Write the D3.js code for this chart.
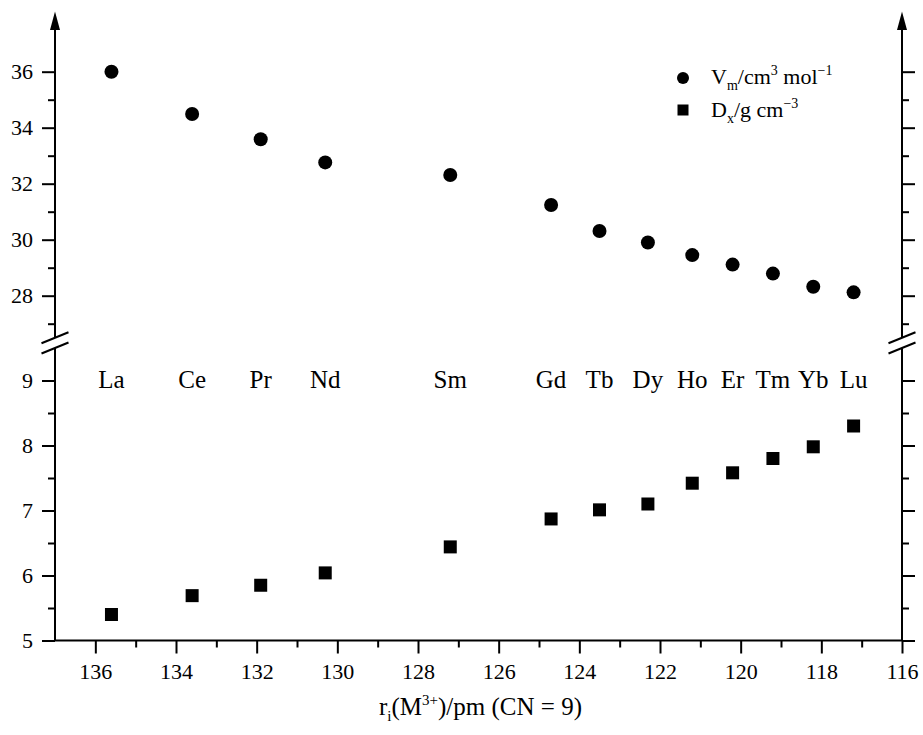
<!DOCTYPE html>
<html lang="en">
<head>
    <meta charset="UTF-8">
    <title>Molar volume and density vs ionic radius</title>
    <style>
        body { margin: 0; background: #fff; }
        svg text { font-family: 'Liberation Serif', 'Times New Roman', serif; fill: #000; }
    </style>
    <script src="https://d3js.org/d3.v7.min.js"></script>
</head>
<body>
    <svg width="923" height="735"></svg>
    <script>
        // values
        const elements = ["La", "Ce", "Pr", "Nd", "Sm", "Gd", "Tb", "Dy", "Ho", "Er", "Tm", "Yb", "Lu"];
        const radius = [135.6, 133.6, 131.9, 130.3, 127.2, 124.7, 123.5, 122.3, 121.2, 120.2, 119.2, 118.2, 117.2];
        const molarVolume = [36.0, 34.49, 33.59, 32.76, 32.31, 31.24, 30.31, 29.90, 29.45, 29.11, 28.79, 28.32, 28.12];
        const density = [5.40, 5.69, 5.85, 6.04, 6.44, 6.87, 7.01, 7.10, 7.42, 7.58, 7.80, 7.98, 8.30];

        const xTicks = [136, 134, 132, 130, 128, 126, 124, 122, 120, 118, 116];
        const xMinor = [135, 133, 131, 129, 127, 125, 123, 121, 119, 117];
        const upperTicks = [28, 30, 32, 34, 36];
        const upperMinor = [27, 29, 31, 33, 35];
        const lowerTicks = [5, 6, 7, 8, 9];
        const lowerMinor = [5.5, 6.5, 7.5, 8.5];

        const data = elements.map((el, i) => ({ el, r: radius[i], vm: molarVolume[i], dx: density[i] }));

        const svg = d3.select("svg");
        const left = 55, right = 902;

        const x = d3.scaleLinear().domain([137, 116]).range([left, right]);
        const yUp = d3.scaleLinear().domain([26.5, 37]).range([337.7, 43.7]);
        const yLow = d3.scaleLinear().domain([5, 9.5]).range([640.5, 348]);

        const major = 13, minor = 7, fontSize = "22px";
        const fmt = d3.format("d");

        function styleAxis(g) {
            g.select(".domain").remove();
            g.selectAll(".tick line").attr("stroke", "#000").attr("stroke-width", 2);
            g.selectAll(".tick text").style("font-size", fontSize).attr("fill", "#000");
        }

        // left axis, upper and lower parts
        svg.append("g").attr("transform", `translate(${left},0)`)
            .call(d3.axisLeft(yUp).tickValues(upperTicks).tickSize(major).tickPadding(9).tickFormat(fmt)).call(styleAxis);
        svg.append("g").attr("transform", `translate(${left},0)`)
            .call(d3.axisLeft(yUp).tickValues(upperMinor).tickSize(minor).tickFormat("")).call(styleAxis);
        svg.append("g").attr("transform", `translate(${left},0)`)
            .call(d3.axisLeft(yLow).tickValues(lowerTicks).tickSize(major).tickPadding(9).tickFormat(fmt)).call(styleAxis);
        svg.append("g").attr("transform", `translate(${left},0)`)
            .call(d3.axisLeft(yLow).tickValues(lowerMinor).tickSize(minor).tickFormat("")).call(styleAxis);

        // right axis, no labels
        svg.append("g").attr("transform", `translate(${right},0)`)
            .call(d3.axisRight(yUp).tickValues(upperTicks).tickSize(major).tickFormat("")).call(styleAxis);
        svg.append("g").attr("transform", `translate(${right},0)`)
            .call(d3.axisRight(yUp).tickValues(upperMinor).tickSize(minor).tickFormat("")).call(styleAxis);
        svg.append("g").attr("transform", `translate(${right},0)`)
            .call(d3.axisRight(yLow).tickValues(lowerTicks).tickSize(major).tickFormat("")).call(styleAxis);
        svg.append("g").attr("transform", `translate(${right},0)`)
            .call(d3.axisRight(yLow).tickValues(lowerMinor).tickSize(minor).tickFormat("")).call(styleAxis);

        // bottom axis
        const yBase = yLow(5);
        svg.append("g").attr("transform", `translate(0,${yBase})`)
            .call(d3.axisBottom(x).tickValues(xTicks).tickSize(major).tickPadding(10).tickFormat(fmt)).call(styleAxis);
        svg.append("g").attr("transform", `translate(0,${yBase})`)
            .call(d3.axisBottom(x).tickValues(xMinor).tickSize(minor).tickFormat("")).call(styleAxis);

        // axis lines
        const lines = svg.append("g").attr("stroke", "#000").attr("stroke-width", 2);
        const arrowBase = 29, arrowTip = 11.5;
        [left, right].forEach(ax => {
            lines.append("line").attr("x1", ax).attr("x2", ax).attr("y1", yUp(26.5)).attr("y2", arrowBase);
            lines.append("line").attr("x1", ax).attr("x2", ax).attr("y1", yLow(9.5)).attr("y2", yLow(5));
            svg.append("path")
                .attr("d", `M${ax},${arrowTip} L${ax - 5},${arrowBase + 1} L${ax + 5},${arrowBase + 1} Z`)
                .attr("fill", "#000");
            // break marks
            [yUp(26.5), yLow(9.5)].forEach(yb => {
                lines.append("line")
                    .attr("x1", ax - 13.5).attr("y1", yb + 5.5)
                    .attr("x2", ax + 13.5).attr("y2", yb - 5.5);
            });
        });
        lines.append("line").attr("x1", left).attr("x2", right).attr("y1", yBase).attr("y2", yBase);

        // molar volume circles
        svg.append("g").selectAll("circle")
            .data(data).enter().append("circle")
            .attr("cx", d => x(d.r))
            .attr("cy", d => yUp(d.vm))
            .attr("r", 7)
            .attr("fill", "#000");

        // density squares
        const sq = 13;
        svg.append("g").selectAll("rect")
            .data(data).enter().append("rect")
            .attr("x", d => x(d.r) - sq / 2)
            .attr("y", d => yLow(d.dx) - sq / 2)
            .attr("width", sq)
            .attr("height", sq)
            .attr("fill", "#000");

        // element labels
        svg.append("g").selectAll("text")
            .data(data).enter().append("text")
            .attr("x", d => x(d.r))
            .attr("y", yLow(9))
            .attr("dy", "0.3em")
            .attr("text-anchor", "middle")
            .style("font-size", "25px")
            .text(d => d.el);

        // legend
        const legend = svg.append("g").attr("transform", "translate(683,0)");
        legend.append("circle").attr("cx", 0).attr("cy", 78).attr("r", 6).attr("fill", "#000");
        legend.append("rect").attr("x", -5.5).attr("y", 104.5).attr("width", 11).attr("height", 11).attr("fill", "#000");

        const t1 = legend.append("text").attr("x", 28).attr("y", 84).style("font-size", fontSize);
        t1.append("tspan").text("V");
        t1.append("tspan").attr("dy", 6).style("font-size", "14px").text("m");
        t1.append("tspan").attr("dy", -6).text("/cm");
        t1.append("tspan").attr("dy", -9).style("font-size", "14px").text("3");
        t1.append("tspan").attr("dy", 9).text(" mol");
        t1.append("tspan").attr("dy", -9).style("font-size", "14px").text("\u22121");

        const t2 = legend.append("text").attr("x", 28).attr("y", 117).style("font-size", fontSize);
        t2.append("tspan").text("D");
        t2.append("tspan").attr("dy", 6).style("font-size", "14px").text("x");
        t2.append("tspan").attr("dy", -6).text("/g cm");
        t2.append("tspan").attr("dy", -9).style("font-size", "14px").text("\u22123");

        // x axis title
        const xt = svg.append("text")
            .attr("x", (left + right) / 2 + 2)
            .attr("y", 715)
            .attr("text-anchor", "middle")
            .style("font-size", "25px");
        xt.append("tspan").text("r");
        xt.append("tspan").attr("dy", 6).style("font-size", "15px").text("i");
        xt.append("tspan").attr("dy", -6).text("(M");
        xt.append("tspan").attr("dy", -10).style("font-size", "15px").text("3+");
        xt.append("tspan").attr("dy", 10).text(")/pm (CN = 9)");
    </script>
</body>
</html>
